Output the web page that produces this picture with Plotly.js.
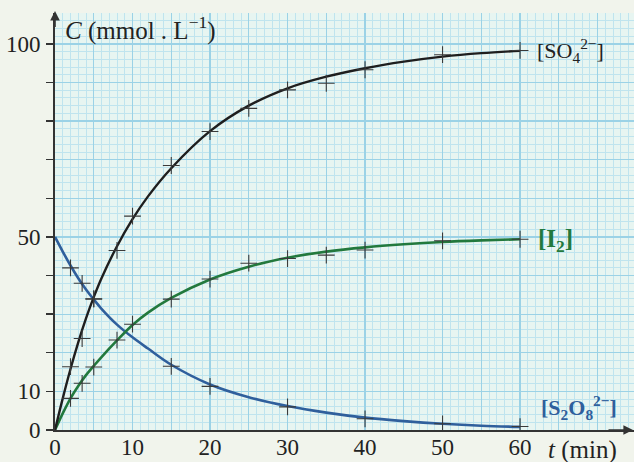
<!DOCTYPE html>
<html>
<head>
<meta charset="utf-8">
<script src="https://cdn.plot.ly/plotly-3.0.1.min.js"></script>
<style>html,body{margin:0;padding:0;background:#f1f4ec;}#chart{width:634px;height:462px;}</style>
</head>
<body>
<div id="chart"></div>
<script>
// Measured points (crosses)
const tSO4 = [2, 3.5, 5, 8, 10, 15, 20, 25, 30, 35, 40, 50, 60];
const cSO4 = [16.4, 23.7, 33.9, 46.5, 55.4, 68.5, 77.3, 83.3, 88.1, 89.8, 93.3, 97.2, 98.3];
const tI2 = [2, 3.5, 5, 8, 10, 15, 20, 25, 30, 35, 40, 50, 60];
const cI2 = [8.2, 12.1, 16.3, 23.3, 27.4, 33.9, 39.1, 43.2, 44.4, 45.3, 46.6, 49.0, 49.4];
const tS2O8 = [2, 3.5, 5, 15, 20, 30, 40, 50, 60];
const cS2O8 = [42.0, 38.0, 34.0, 16.5, 11.3, 6.0, 2.9, 1.6, 0.9];

// Smooth curves
const tCurve = [0, 1, 2, 3, 4, 5, 6, 8, 10, 12, 15, 20, 25, 30, 35, 40, 45, 50, 55, 60];
const curveSO4 = [0, 8.2, 15.8, 22.7, 28.9, 34.4, 39.3, 47.6, 54.6, 60.5, 67.8, 77.4, 84, 88.5, 91.5, 93.7, 95.4, 96.7, 97.6, 98.2];
const curveI2 = [0, 4.3, 8.2, 11.4, 14.2, 16.6, 18.9, 23.2, 27.2, 30.4, 34.2, 39, 42.3, 44.6, 46.2, 47.3, 48.1, 48.7, 49.1, 49.4];
const curveS2O8 = [50, 46.2, 42.6, 39.3, 36.4, 33.8, 31.4, 27.3, 24.0, 21.1, 16.9, 11.8, 8.5, 6.2, 4.5, 3.2, 2.3, 1.6, 1.1, 0.8];

// Tick labels
const xTickVals = [0, 10, 20, 30, 40, 50, 60];
const xTickText = ['0', '10', '20', '30', '40', '50', '60'];
const yTickVals = [0, 10, 50, 100];
const yTickText = ['0', '10', '50', '100'];

const colSO4 = '#1e1e1e', colI2 = '#22793d', colS2O8 = '#2f5f9c';
const crossMarker = {symbol: 'cross-thin', size: 12, line: {color: '#3a3a3a', width: 1.1}};

const traces = [
  {x: tCurve, y: curveS2O8, mode: 'lines', line: {color: colS2O8, width: 2.6, shape: 'spline', smoothing: 1}, hoverinfo: 'skip'},
  {x: tCurve, y: curveI2, mode: 'lines', line: {color: colI2, width: 2.6, shape: 'spline', smoothing: 1}, hoverinfo: 'skip'},
  {x: tCurve, y: curveSO4, mode: 'lines', line: {color: colSO4, width: 2.4, shape: 'spline', smoothing: 1}, hoverinfo: 'skip'},
  {x: tSO4, y: cSO4, mode: 'markers', marker: crossMarker, xaxis: 'x2', yaxis: 'y2'},
  {x: tI2, y: cI2, mode: 'markers', marker: crossMarker, xaxis: 'x2', yaxis: 'y2'},
  {x: tS2O8, y: cS2O8, mode: 'markers', marker: crossMarker, xaxis: 'x2', yaxis: 'y2'}
];

const serif = "'Liberation Serif', 'DejaVu Serif', serif";
const xRange = [0, 74.7], yRange = [0, 108.0];
const layout = {
  width: 634, height: 462,
  margin: {l: 55, r: 0, t: 13, b: 32},
  paper_bgcolor: '#f1f4ec',
  plot_bgcolor: '#e7f5f1',
  showlegend: false,
  font: {family: serif, size: 23, color: '#222'},
  xaxis: {
    range: xRange, dtick: 5, tick0: 0, showticklabels: false,
    showgrid: true, gridcolor: '#9bd2e6', gridwidth: 1.3,
    minor: {dtick: 1, tick0: 0, showgrid: true, gridcolor: '#bfe4ee', gridwidth: 1},
    ticks: '', zeroline: false, showline: true, linecolor: '#333', linewidth: 1.6, fixedrange: true
  },
  yaxis: {
    range: yRange, dtick: 10, tick0: 0, showticklabels: false,
    showgrid: true, gridcolor: '#9bd2e6', gridwidth: 1.3,
    minor: {dtick: 2, tick0: 0, showgrid: true, gridcolor: '#bfe4ee', gridwidth: 1},
    ticks: 'outside', ticklen: 7, tickcolor: '#333', tickwidth: 1.4,
    zeroline: false, showline: true, linecolor: '#333', linewidth: 1.6, fixedrange: true
  },
  xaxis2: {
    overlaying: 'x', anchor: 'y2', side: 'bottom', range: xRange, tickmode: 'array',
    tickvals: xTickVals, ticktext: xTickText, showgrid: false, zeroline: false, showline: false,
    ticks: '', ticklabelstandoff: 1, tickfont: {family: serif, size: 23, color: '#222'}, fixedrange: true
  },
  yaxis2: {
    overlaying: 'y', anchor: 'x2', side: 'left', range: yRange, tickmode: 'array',
    tickvals: yTickVals, ticktext: yTickText, showgrid: false, zeroline: false, showline: false,
    ticks: 'outside', ticklen: 7, tickcolor: 'rgba(0,0,0,0)', ticklabelstandoff: 2,
    tickfont: {family: serif, size: 23, color: '#222'}, fixedrange: true
  },
  annotations: [
    {xref: 'paper', yref: 'paper', x: 1, y: 0, ax: -30, ay: 0, axref: 'pixel', ayref: 'pixel',
     showarrow: true, arrowhead: 2, arrowsize: 1.2, arrowwidth: 1.6, arrowcolor: '#333', text: ' '},
    {xref: 'paper', yref: 'paper', x: 0, y: 1.005, ax: 0, ay: 30, axref: 'pixel', ayref: 'pixel',
     showarrow: true, arrowhead: 2, arrowsize: 1.2, arrowwidth: 1.6, arrowcolor: '#333', text: ' '},
    {xref: 'paper', yref: 'paper', x: 0.014, y: 0.962, xanchor: 'left', yanchor: 'middle', showarrow: false,
     text: '<i>C</i> (mmol . L<sup>−1</sup>)', font: {family: serif, size: 25, color: '#222'}},
    {xref: 'x', yref: 'y', x: 61.9, y: 98.4, xanchor: 'left', yanchor: 'middle', showarrow: false,
     text: '[SO<sub>4</sub><sup>2−</sup>]', font: {family: serif, size: 22, color: '#222'}},
    {xref: 'x', yref: 'y', x: 62.0, y: 49.2, xanchor: 'left', yanchor: 'middle', showarrow: false,
     text: '<b>[I<sub>2</sub>]</b>', font: {family: serif, size: 25, color: colI2}},
    {xref: 'x', yref: 'y', x: 62.4, y: 5.7, xanchor: 'left', yanchor: 'middle', showarrow: false,
     text: '<b>[S<sub>2</sub>O<sub>8</sub><sup>2−</sup>]</b>', font: {family: serif, size: 22, color: colS2O8}},
    {xref: 'paper', yref: 'paper', x: 0.848, y: -0.048, xanchor: 'left', yanchor: 'middle', showarrow: false,
     text: '<i>t</i> (min)', font: {family: serif, size: 25, color: '#222'}}
  ]
};

Plotly.newPlot('chart', traces, layout, {staticPlot: true, displayModeBar: false});
</script>
</body>
</html>
